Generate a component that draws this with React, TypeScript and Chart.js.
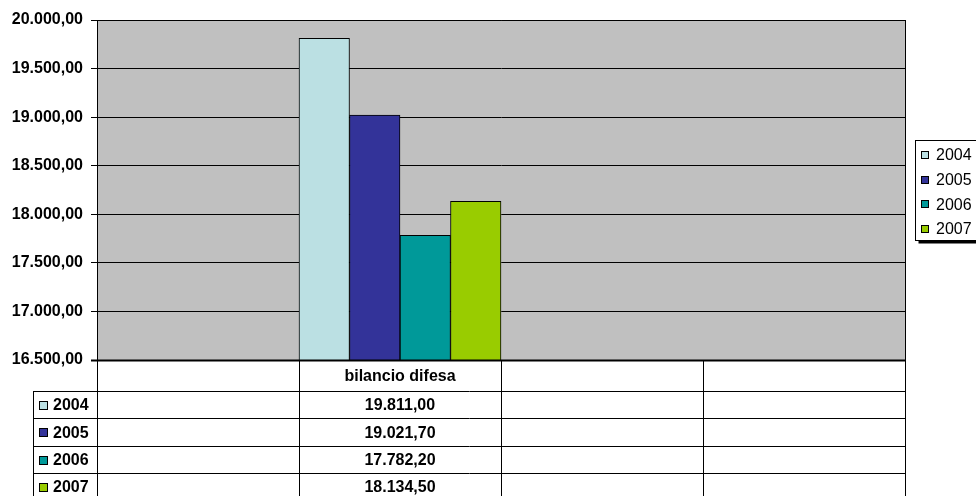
import React, { useEffect, useRef } from "react";
import { Chart, registerables } from "chart.js";

Chart.register(...registerables);

const categories = ["", "bilancio difesa", "", ""];
const seriesLabels = ["2004", "2005", "2006", "2007"];
const values2004 = [null, 19811.0, null, null];
const values2005 = [null, 19021.7, null, null];
const values2006 = [null, 17782.2, null, null];
const values2007 = [null, 18134.5, null, null];
const seriesValues = [values2004, values2005, values2006, values2007];
const seriesColors = ["#BBE0E3", "#333399", "#009999", "#99CC00"];
const yMin = 16500;
const yMax = 20000;
const yStep = 500;

const FONT = "'Liberation Sans', Arial, sans-serif";

function fmt(v: number): string {
  const fixed = v.toFixed(2);
  const [intPart, dec] = fixed.split(".");
  return intPart.replace(/\B(?=(\d{3})+(?!\d))/g, ".") + "," + dec;
}

const framePlugin = {
  id: "excelFrame",
  beforeDraw(chart: any) {
    const { ctx, chartArea } = chart;
    ctx.save();
    ctx.fillStyle = "#C0C0C0";
    ctx.fillRect(chartArea.left, chartArea.top, chartArea.right - chartArea.left, chartArea.bottom - chartArea.top);
    ctx.restore();
  },
  afterDraw(chart: any) {
    const { ctx, chartArea, width, height } = chart;
    const { left, right, top, bottom } = chartArea;
    ctx.save();
    // plot border
    ctx.strokeStyle = "#000";
    ctx.lineWidth = 1;
    ctx.beginPath();
    ctx.moveTo(left + 0.5, top + 0.5);
    ctx.lineTo(right + 0.5, top + 0.5);
    ctx.moveTo(right + 0.5, top);
    ctx.lineTo(right + 0.5, bottom);
    ctx.moveTo(left + 0.5, top);
    ctx.lineTo(left + 0.5, bottom);
    ctx.stroke();
    ctx.lineWidth = 2;
    ctx.beginPath();
    ctx.moveTo(left - 6, bottom + 0.5);
    ctx.lineTo(right + 1, bottom + 0.5);
    ctx.stroke();

    // data table
    const n = categories.length;
    const colW = (right - left) / n;
    const headerBottom = 391;
    const rowH = 27.4;
    const tableLeft = 33;
    ctx.lineWidth = 1;
    ctx.strokeStyle = "#000";
    // verticals
    for (let k = 0; k <= n; k++) {
      const x = Math.round(left + k * colW) + 0.5;
      ctx.beginPath();
      ctx.moveTo(x, bottom + 1);
      ctx.lineTo(x, height);
      ctx.stroke();
    }
    ctx.beginPath();
    ctx.moveTo(tableLeft + 0.5, headerBottom);
    ctx.lineTo(tableLeft + 0.5, height);
    ctx.stroke();
    // horizontals
    for (let r = 0; r <= seriesLabels.length; r++) {
      const y = Math.round(headerBottom + r * rowH) + 0.5;
      ctx.beginPath();
      ctx.moveTo(tableLeft, y);
      ctx.lineTo(right + 1, y);
      ctx.stroke();
    }
    ctx.fillStyle = "#000";
    ctx.font = `bold 16px ${FONT}`;
    ctx.textBaseline = "middle";
    ctx.textAlign = "center";
    const xScale = chart.scales.x;
    categories.forEach((c, j) => {
      const cx = xScale.getPixelForValue(j);
      ctx.fillText(c, cx, (bottom + headerBottom) / 2 + 1.5);
    });
    seriesLabels.forEach((lab, i) => {
      const mid = headerBottom + i * rowH + rowH / 2 + 1;
      seriesValues[i].forEach((v, j) => {
        if (v === null) return;
        ctx.textAlign = "center";
        ctx.fillStyle = "#000";
        ctx.fillText(fmt(v as number), xScale.getPixelForValue(j), mid);
      });
      ctx.fillStyle = seriesColors[i];
      ctx.fillRect(39.5, Math.round(mid - 5) + 0.5, 8, 8);
      ctx.strokeStyle = "#000";
      ctx.strokeRect(39.5, Math.round(mid - 5) + 0.5, 8, 8);
      ctx.fillStyle = "#000";
      ctx.textAlign = "left";
      ctx.fillText(lab, 53, mid);
    });

    // legend
    const lx = 915.5;
    const ly = 140.5;
    const lw = 80;
    const lh = 100;
    ctx.fillStyle = "#000";
    ctx.fillRect(lx + 3, ly + lh, lw, 3);
    ctx.fillStyle = "#fff";
    ctx.fillRect(lx, ly, lw, lh);
    ctx.strokeStyle = "#000";
    ctx.strokeRect(lx, ly, lw, lh);
    ctx.font = `16px ${FONT}`;
    ctx.textAlign = "left";
    seriesLabels.forEach((lab, i) => {
      const cy = 155 + i * 24.6;
      ctx.fillStyle = seriesColors[i];
      ctx.fillRect(921.5, Math.round(cy - 4) + 0.5, 7, 7);
      ctx.strokeStyle = "#000";
      ctx.strokeRect(921.5, Math.round(cy - 4) + 0.5, 7, 7);
      ctx.fillStyle = "#000";
      ctx.fillText(lab, 936, cy + 1);
    });
    ctx.restore();
  },
};

export default function App() {
  const ref = useRef<HTMLCanvasElement | null>(null);
  useEffect(() => {
    if (!ref.current) return;
    const chart = new Chart(ref.current, {
      type: "bar",
      data: {
        labels: categories,
        datasets: seriesLabels.map((l, i) => ({
          label: l,
          data: seriesValues[i] as any,
          backgroundColor: seriesColors[i],
          borderColor: "#000",
          borderWidth: 1,
          barPercentage: 1,
          categoryPercentage: 1,
        })),
      },
      options: {
        animation: false,
        responsive: false,
        devicePixelRatio: 1,
        layout: { padding: { left: 0, top: 20, right: 71, bottom: 136 } },
        plugins: { legend: { display: false }, tooltip: { enabled: false } },
        scales: {
          x: { display: false, offset: true },
          y: {
            min: yMin,
            max: yMax,
            afterFit(scale: any) {
              scale.width = 97;
            },
            ticks: {
              stepSize: yStep,
              color: "#000",
              padding: 8,
              font: { family: FONT, size: 16, weight: "bold" },
              callback: (v: any) => fmt(Number(v)),
            },
            grid: { color: "#000", lineWidth: 1, tickLength: 6, drawTicks: true },
            border: { display: true, color: "#000" },
          },
        },
      },
      plugins: [framePlugin],
    });
    return () => chart.destroy();
  }, []);
  return (
    <div style={{ position: "absolute", left: 0, top: 0, width: 976, height: 496, background: "#fff" }}>
      <canvas ref={ref} width={976} height={496} style={{ display: "block" }} />
    </div>
  );
}
